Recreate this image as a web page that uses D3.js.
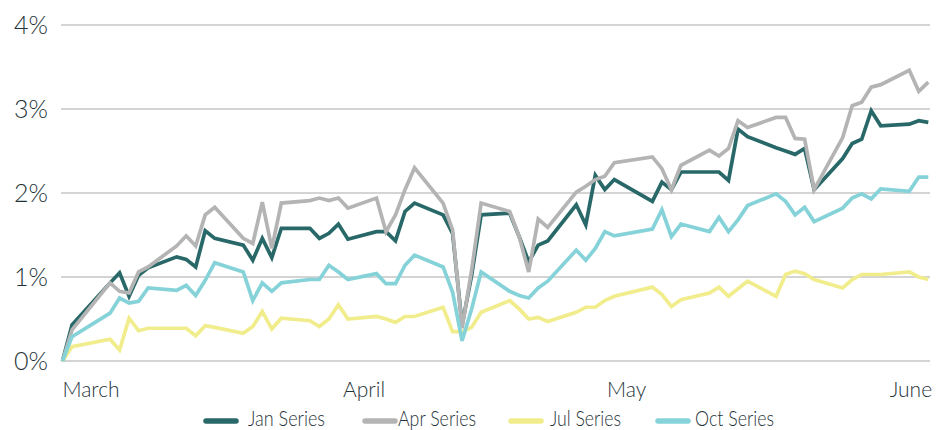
<!DOCTYPE html>
<html>
<head>
<meta charset="utf-8">
<script src="https://cdn.jsdelivr.net/npm/d3@7"></script>
<style>
  body { margin: 0; background: #fff; }
  text { font-family: Lato, "Open Sans", sans-serif; fill: #1f3439; }
</style>
</head>
<body>
<div id="chart"></div>
<script>
// calendar days counted from the first observation
const days = [0, 1, 5, 6, 7, 8, 9, 12, 13, 14, 15, 16, 19, 20, 21, 22, 23, 26, 27, 28, 29, 30,
  33, 34, 35, 36, 37, 40, 41, 42, 43, 44, 47, 48, 49, 50, 51, 54, 55, 56, 57, 58, 62, 63, 64, 65,
  68, 69, 70, 71, 72, 75, 76, 77, 78, 79, 82, 83, 84, 85, 86, 89, 90, 91];

const janSeries = [0, 0.43, 0.93, 1.05, 0.77, 1.02, 1.11, 1.24, 1.21, 1.12, 1.55, 1.46, 1.38, 1.20, 1.46, 1.23,
  1.58, 1.58, 1.46, 1.52, 1.63, 1.45, 1.54, 1.54, 1.43, 1.78, 1.88, 1.74, 1.52, 0.43, 1.02, 1.74, 1.76, 1.48,
  1.18, 1.38, 1.43, 1.86, 1.62, 2.21, 2.04, 2.16, 1.90, 2.13, 2.04, 2.25, 2.25, 2.25, 2.15, 2.76, 2.67, 2.54,
  2.50, 2.46, 2.53, 2.04, 2.41, 2.59, 2.64, 2.98, 2.80, 2.82, 2.86, 2.84];

const aprSeries = [0, 0.37, 0.93, 0.83, 0.81, 1.06, 1.12, 1.37, 1.49, 1.37, 1.74, 1.83, 1.46, 1.40, 1.89, 1.34,
  1.88, 1.91, 1.94, 1.91, 1.94, 1.82, 1.94, 1.54, 1.74, 2.04, 2.30, 1.88, 1.56, 0.39, 1.08, 1.88, 1.78, 1.48,
  1.06, 1.69, 1.59, 2.01, 2.08, 2.16, 2.20, 2.36, 2.43, 2.29, 2.04, 2.33, 2.51, 2.44, 2.53, 2.86, 2.78, 2.90,
  2.90, 2.65, 2.64, 2.04, 2.66, 3.04, 3.08, 3.26, 3.29, 3.46, 3.21, 3.32];

const julSeries = [0, 0.17, 0.26, 0.13, 0.51, 0.36, 0.39, 0.39, 0.39, 0.30, 0.42, 0.40, 0.33, 0.41, 0.59, 0.38,
  0.51, 0.48, 0.41, 0.50, 0.67, 0.50, 0.53, 0.50, 0.46, 0.53, 0.53, 0.64, 0.35, 0.35, 0.40, 0.58, 0.72, 0.62,
  0.50, 0.52, 0.47, 0.58, 0.64, 0.64, 0.72, 0.77, 0.88, 0.79, 0.65, 0.73, 0.81, 0.88, 0.77, 0.86, 0.95, 0.77,
  1.03, 1.07, 1.04, 0.97, 0.87, 0.97, 1.03, 1.03, 1.03, 1.06, 1.00, 0.97];

const octSeries = [0, 0.29, 0.57, 0.75, 0.69, 0.71, 0.87, 0.84, 0.90, 0.78, 0.96, 1.17, 1.06, 0.72, 0.93, 0.83,
  0.93, 0.97, 0.97, 1.14, 1.06, 0.97, 1.04, 0.92, 0.92, 1.14, 1.26, 1.12, 0.82, 0.24, 0.62, 1.06, 0.83, 0.78,
  0.75, 0.87, 0.95, 1.32, 1.20, 1.34, 1.54, 1.49, 1.57, 1.80, 1.48, 1.63, 1.54, 1.71, 1.54, 1.68, 1.85, 1.99,
  1.90, 1.74, 1.83, 1.66, 1.82, 1.94, 1.99, 1.93, 2.05, 2.02, 2.19, 2.19];

const seriesNames = ["Jan Series", "Apr Series", "Jul Series", "Oct Series"];
const seriesColors = ["#296868", "#b4b4b4", "#f1ed8d", "#85d3d9"];
const yTicks = [0, 1, 2, 3, 4];
const monthLabels = ["March", "April", "May", "June"];
const monthDays = [0, 31.7, 59.3, 91.4];

const width = 945, height = 430;

const svg = d3.select("#chart").append("svg")
  .attr("width", width)
  .attr("height", height);

const x = d3.scaleLinear().domain([0, 91]).range([62.5, 928.3]);
const y = d3.scaleLinear().domain([0, 4]).range([361, 25]);

// grid
svg.append("g").selectAll("line")
  .data(yTicks)
  .join("line")
  .attr("x1", 61).attr("x2", 930)
  .attr("y1", d => y(d)).attr("y2", d => y(d))
  .attr("stroke", "#c6c6c6")
  .attr("stroke-width", 1.5);

svg.append("g").selectAll("text")
  .data(yTicks)
  .join("text")
  .attr("x", 14)
  .attr("y", d => y(d))
  .attr("dy", "0.36em")
  .style("font-size", "25px")
  .style("font-weight", 300)
  .text(d => d + "%");

svg.append("g").selectAll("text")
  .data(monthLabels)
  .join("text")
  .attr("x", (d, i) => x(monthDays[i]))
  .attr("y", 397)
  .attr("text-anchor", (d, i) => i === 0 ? "start" : i === monthLabels.length - 1 ? "end" : "middle")
  .style("font-size", "21px")
  .style("font-weight", 300)
  .text(d => d);

// lines
const allSeries = [janSeries, aprSeries, julSeries, octSeries];
const line = d3.line()
  .x((d, i) => x(days[i]))
  .y(d => y(d));

svg.append("g").selectAll("path")
  .data(allSeries)
  .join("path")
  .attr("fill", "none")
  .attr("stroke", (d, i) => seriesColors[i])
  .attr("stroke-width", 3.7)
  .attr("stroke-linejoin", "miter")
  .attr("d", line);

// legend
const legendPos = [
  {sx: 206, tx: 248, tw: 77},
  {sx: 365, tx: 398, tw: 78},
  {sx: 511, tx: 550, tw: 71},
  {sx: 658, tx: 695, tw: 79}
];
const legend = svg.append("g").selectAll("g")
  .data(seriesNames)
  .join("g");
legend.append("line")
  .attr("x1", (d, i) => legendPos[i].sx)
  .attr("x2", (d, i) => legendPos[i].sx + 30)
  .attr("y1", 421).attr("y2", 421)
  .attr("stroke", (d, i) => seriesColors[i])
  .attr("stroke-width", 5.5)
  .attr("stroke-linecap", "round");
legend.append("text")
  .attr("x", (d, i) => legendPos[i].tx)
  .attr("y", 426)
  .attr("textLength", (d, i) => legendPos[i].tw)
  .attr("lengthAdjust", "spacingAndGlyphs")
  .style("font-size", "21px")
  .style("font-weight", 300)
  .text(d => d);
</script>
</body>
</html>
